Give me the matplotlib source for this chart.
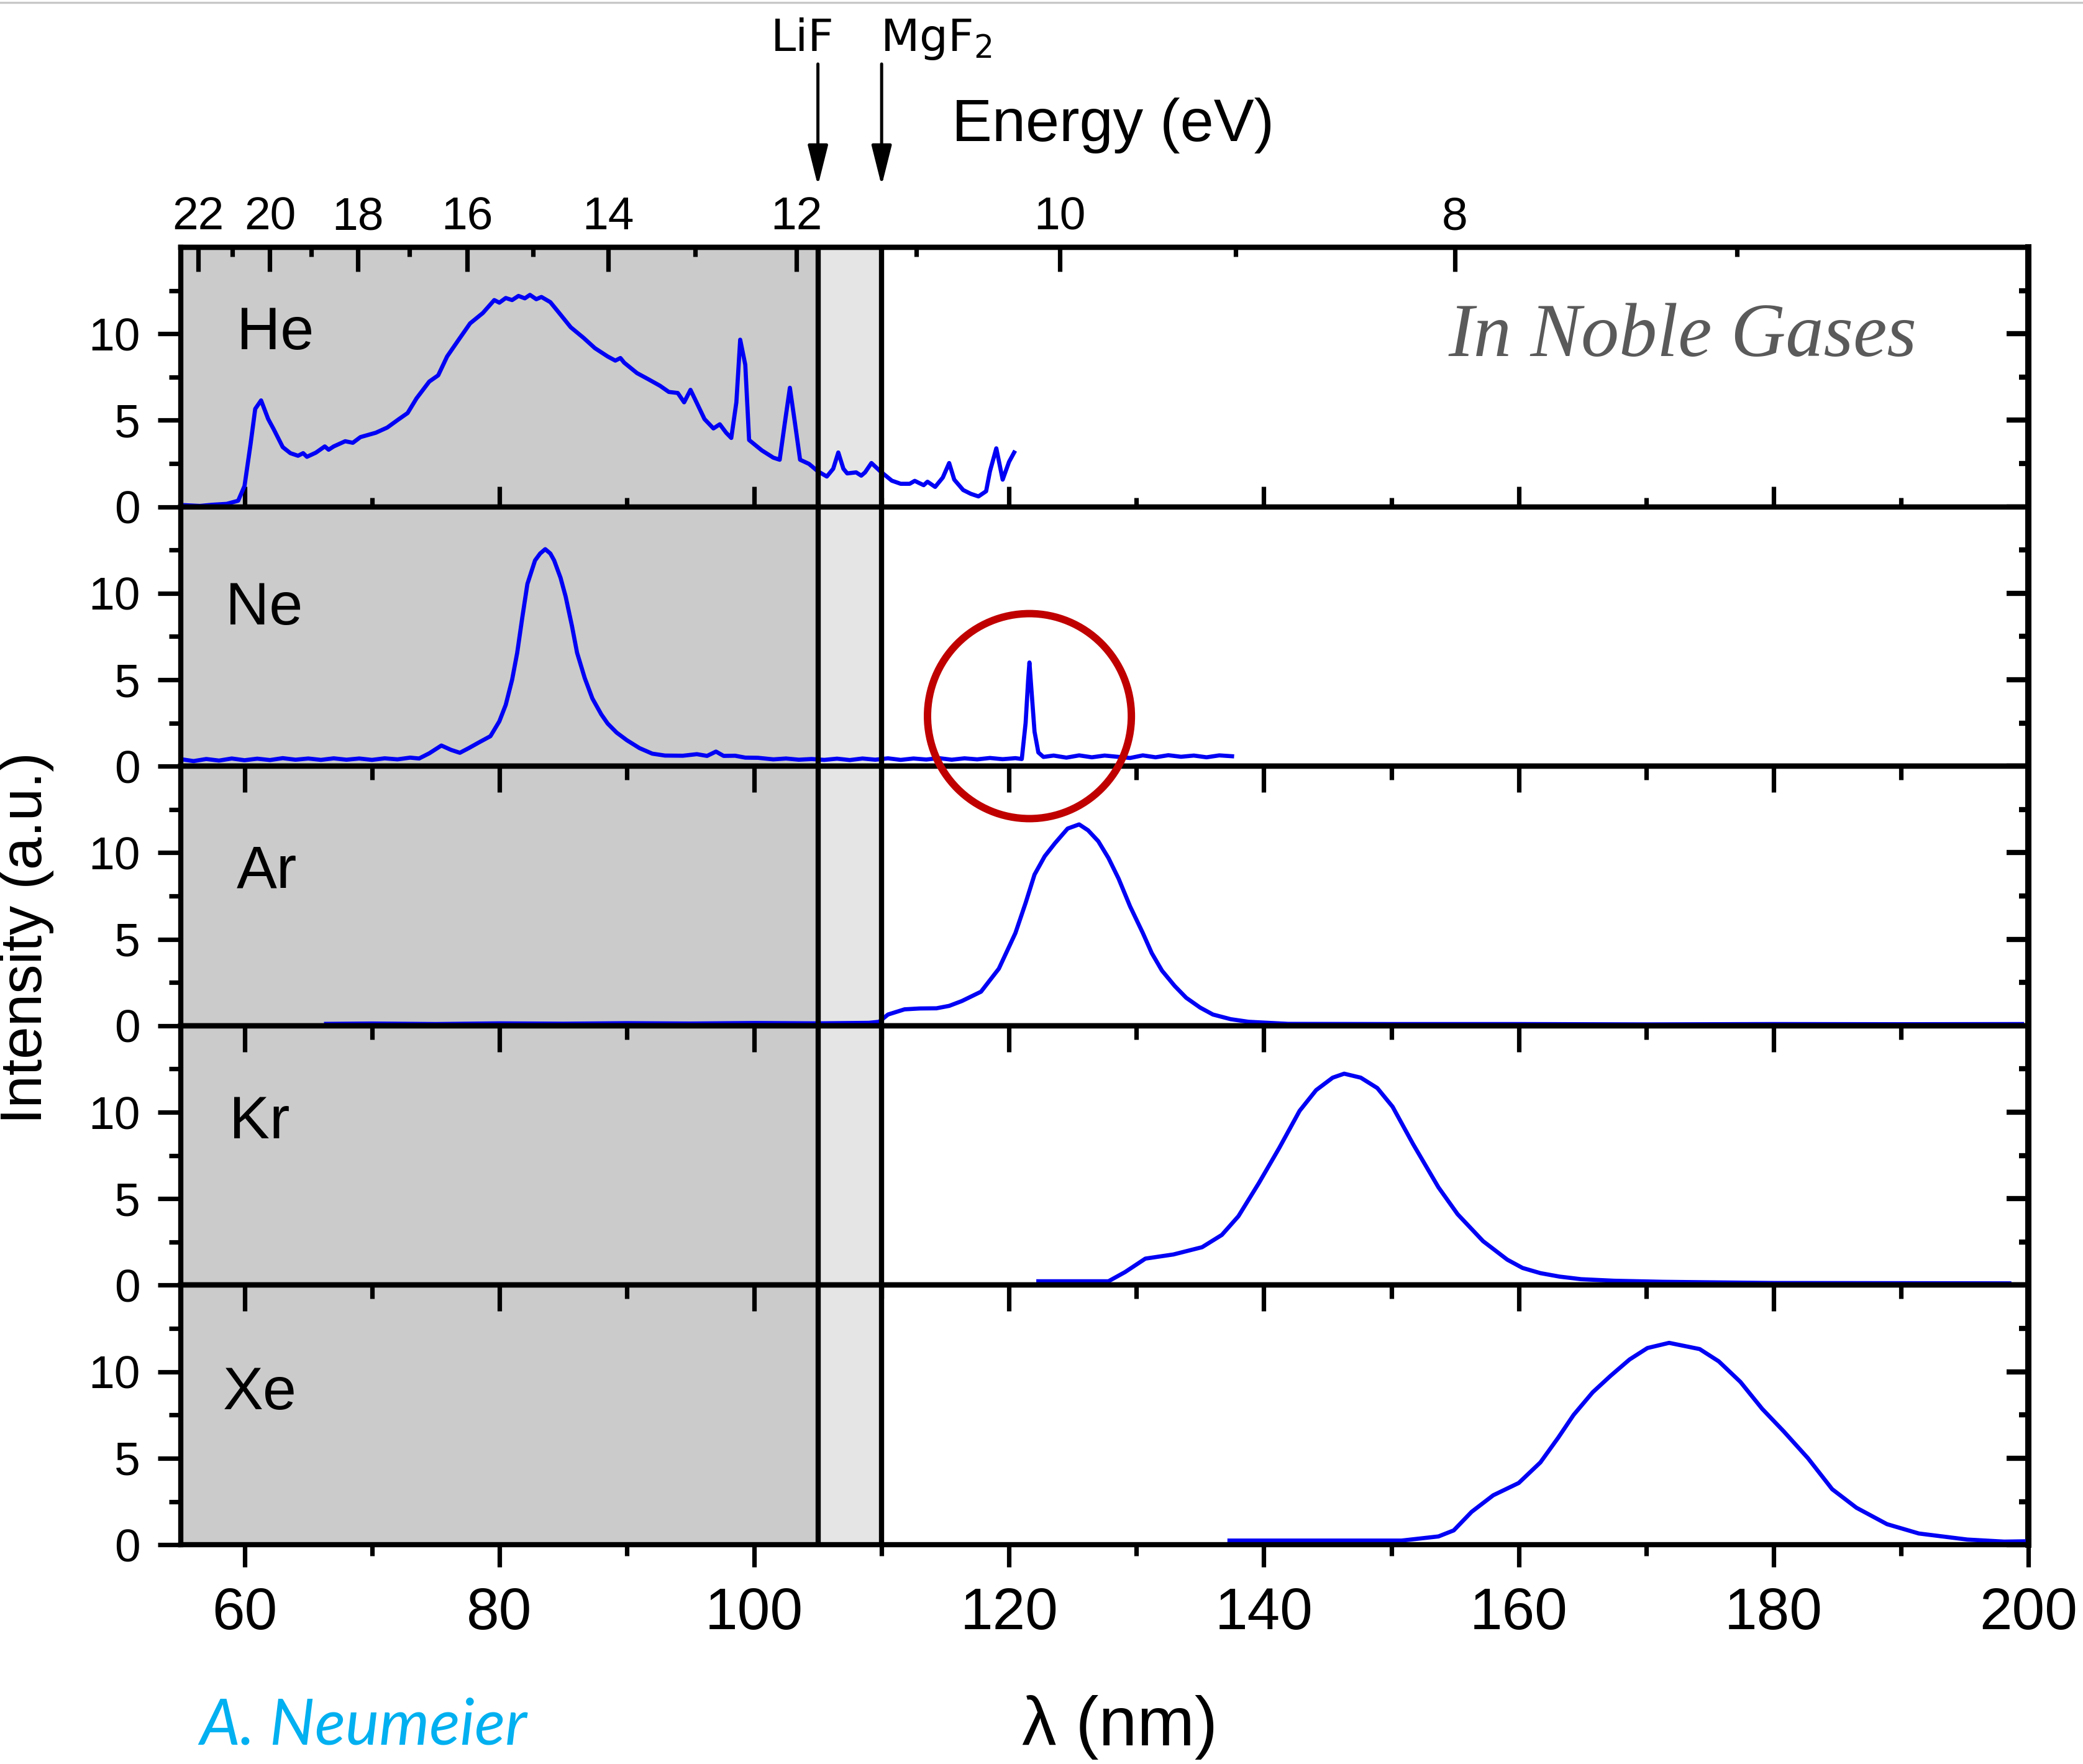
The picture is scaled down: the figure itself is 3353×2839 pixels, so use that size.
"""
VUV emission spectra of the noble gases, one stacked panel per gas
"""
import matplotlib.pyplot as plt
import numpy as np
from matplotlib.lines import Line2D
from matplotlib.patches import Ellipse
from matplotlib.ticker import FixedLocator, MultipleLocator

HC = 1239.84  # eV * nm

# window cut-offs (nm)
LIF_EDGE = 105
MGF2_EDGE = 110

gases = ["He", "Ne", "Ar", "Kr", "Xe"]

he_nm = [55.1, 56.5, 57.5, 58.6, 59.5, 60.0, 60.47, 60.84, 61.3, 61.86, 62.3,
         63.0, 63.6, 64.2, 64.6, 64.9, 65.6, 66.3, 66.6, 67.0, 67.9, 68.5,
         69.1, 70.3, 71.2, 72.1, 72.8, 73.5, 74.5, 75.2, 75.9, 76.8, 77.7,
         78.7, 79.6, 80.0, 80.5, 81.0, 81.5, 82.0, 82.4, 82.9, 83.3, 84.0,
         84.7, 85.6, 86.6, 87.5, 88.5, 89.1, 89.5, 89.8, 90.8, 91.7, 92.6,
         93.3, 94.0, 94.5, 95.0, 95.4, 96.1, 96.8, 97.3, 97.8, 98.2, 98.6,
         98.9, 99.3, 99.6, 100.6, 101.5, 102.0, 102.4, 102.8, 103.2, 103.6,
         104.3, 105.0, 105.7, 106.2, 106.6, 107.0, 107.3, 108.0, 108.4,
         108.7, 109.2, 109.9, 110.8, 111.5, 112.2, 112.6, 112.9, 113.3,
         113.6, 114.2, 114.8, 115.3, 115.7, 116.4, 117.0, 117.6, 118.2,
         118.5, 119.0, 119.5, 120.0, 120.4]
he_int = [0.10, 0.05, 0.12, 0.17, 0.35, 1.2, 3.6, 5.66, 6.15, 5.07, 4.47,
          3.45, 3.1, 2.95, 3.1, 2.89, 3.13, 3.49, 3.3, 3.49, 3.79, 3.7,
          4.03, 4.28, 4.58, 5.06, 5.42, 6.27, 7.24, 7.6, 8.69, 9.65, 10.6,
          11.2, 11.95, 11.8, 12.07, 11.95, 12.19, 12.05, 12.25, 12.0, 12.13,
          11.83, 11.2, 10.38, 9.77, 9.17, 8.69, 8.45, 8.6, 8.33, 7.73, 7.37,
          7.0, 6.64, 6.58, 6.04, 6.76, 6.15, 5.07, 4.53, 4.77, 4.28, 3.98,
          6.04, 9.66, 8.21, 3.86, 3.26, 2.84, 2.72, 4.83, 6.88, 4.83, 2.72,
          2.48, 2.05, 1.75, 2.2, 3.14, 2.2, 1.93, 1.99, 1.8, 1.99, 2.53,
          2.05, 1.51, 1.33, 1.33, 1.5, 1.39, 1.25, 1.45, 1.15, 1.69, 2.53,
          1.57, 0.97, 0.75, 0.6, 0.9, 2.05, 3.38, 1.57, 2.6, 3.14]

ne_nm = [55.1, 56, 57, 58, 59, 60, 61, 62, 63, 64, 65, 66, 67, 68, 69, 70,
         71, 72, 73, 73.7, 74.5, 75.45, 76.2, 76.9, 77.6, 78.4, 79.3, 80.0,
         80.5, 81.0, 81.4, 81.8, 82.2, 82.8, 83.2, 83.6, 84.0, 84.3, 84.8,
         85.2, 85.7, 86.1, 86.7, 87.3, 88.0, 88.5, 89.2, 90.0, 91.0, 92.0,
         93.0, 94.4, 95.5, 96.3, 97.0, 97.6, 98.5, 99.3, 100.3, 101.5, 102.5,
         103.5, 104.5, 105.5, 106.5, 107.5, 108.5, 109.5, 110.5, 111.5,
         112.5, 113.5, 114.5, 115.5, 116.5, 117.5, 118.5, 119.5, 120.5,
         121.0, 121.3, 121.5, 121.6, 121.75, 122.0, 122.3, 122.7, 123.5,
         124.5, 125.5, 126.5, 127.5, 128.5, 129.5, 130.5, 131.5, 132.5,
         133.5, 134.5, 135.5, 136.5, 137.5]
ne_int = [0.40, 0.30, 0.42, 0.33, 0.45, 0.35, 0.44, 0.36, 0.47, 0.38, 0.45,
          0.37, 0.46, 0.38, 0.45, 0.37, 0.46, 0.40, 0.50, 0.45, 0.75, 1.2,
          0.95, 0.78, 1.05, 1.38, 1.74, 2.6, 3.55, 5.0, 6.56, 8.6, 10.54,
          11.9, 12.3, 12.55, 12.3, 11.9, 10.9, 9.82, 8.1, 6.56, 5.1, 3.92,
          3.0, 2.47, 1.95, 1.51, 1.05, 0.73, 0.62, 0.61, 0.70, 0.60, 0.85,
          0.60, 0.61, 0.50, 0.49, 0.40, 0.45, 0.38, 0.42, 0.37, 0.44, 0.36,
          0.45, 0.38, 0.46, 0.37, 0.45, 0.39, 0.47, 0.38, 0.46, 0.40, 0.48,
          0.41, 0.47, 0.42, 2.5, 5.0, 6.0, 4.5, 2.0, 0.8, 0.54, 0.62, 0.50,
          0.63, 0.52, 0.62, 0.55, 0.48, 0.63, 0.52, 0.64, 0.55, 0.62, 0.52,
          0.63, 0.58]

ar_nm = [66.4, 70, 75, 80, 85, 90, 95, 100, 105, 109.0, 109.8, 110.5, 111.8,
         113.0, 114.3, 115.3, 116.3, 117.8, 119.2, 120.5, 121.3, 122.0,
         122.8, 123.6, 124.6, 125.5, 126.2, 127.0, 127.8, 128.6, 129.5,
         130.5, 131.2, 132.0, 133.0, 133.9, 135.0, 136.0, 137.4, 138.8,
         141.9, 150, 160, 170, 180, 190, 199.5]
ar_int = [0.11, 0.13, 0.10, 0.14, 0.12, 0.15, 0.13, 0.16, 0.14, 0.17, 0.23,
          0.65, 0.95, 1.0, 1.01, 1.15, 1.43, 1.97, 3.3, 5.36, 7.1, 8.74,
          9.8, 10.55, 11.4, 11.64, 11.3, 10.67, 9.7, 8.5, 6.9, 5.36, 4.2,
          3.19, 2.3, 1.62, 1.05, 0.65, 0.38, 0.23, 0.11, 0.10, 0.10, 0.08,
          0.10, 0.09, 0.10]

kr_nm = [122.3, 127.8, 129.1, 130.7, 132.9, 135.15, 136.7, 138.0, 139.6,
         141.2, 142.8, 144.1, 145.4, 146.3, 147.6, 148.9, 150.1, 151.7,
         153.7, 155.2, 157.2, 159.1, 160.3, 161.7, 163.2, 164.9, 167.5,
         171.3, 180, 190, 198.5]
kr_int = [0.23, 0.23, 0.76, 1.54, 1.78, 2.2, 2.91, 3.99, 5.9, 7.93, 10.08,
          11.28, 12.0, 12.23, 12.0, 11.4, 10.32, 8.17, 5.66, 4.11, 2.55,
          1.48, 1.0, 0.7, 0.5, 0.35, 0.26, 0.2, 0.13, 0.12, 0.11]

xe_nm = [137.3, 150.8, 153.7, 154.9, 156.3, 158.0, 160.0, 161.7, 163.1,
         164.3, 165.8, 167.2, 168.7, 170.1, 171.8, 173.0, 174.2, 175.7,
         177.4, 179.1, 180.8, 182.7, 184.6, 186.5, 188.9, 191.4, 195.2,
         198.1, 199.8]
xe_int = [0.24, 0.24, 0.48, 0.83, 1.9, 2.86, 3.57, 4.76, 6.19, 7.5, 8.81,
          9.76, 10.71, 11.37, 11.67, 11.49, 11.31, 10.6, 9.41, 7.86, 6.55,
          5.0, 3.21, 2.14, 1.19, 0.65, 0.3, 0.18, 0.2]

spectra = {
    "He": (he_nm, he_int),
    "Ne": (ne_nm, ne_int),
    "Ar": (ar_nm, ar_int),
    "Kr": (kr_nm, kr_int),
    "Xe": (xe_nm, xe_int),
}

energy_major = [22, 20, 18, 16, 14, 12, 10, 8]
energy_minor = [21, 19, 17, 15, 13, 11, 9, 7]

# where the gas name sits inside its panel (nm, intensity)
name_pos = {
    "He": (59.4, 9.1),
    "Ne": (58.5, 8.2),
    "Ar": (59.4, 8.0),
    "Kr": (58.8, 8.5),
    "Xe": (58.3, 7.85),
}

LINE_BLUE = "#0000f5"
DARK_GREY = "#cbcbcb"
LIGHT_GREY = "#e5e5e5"
SPINE_W = 3.0
TICK_W = 2.6


def nm_to_ev(x):
    """photon energy <-> wavelength, the relation is its own inverse"""
    x = np.asarray(x, dtype=float)
    with np.errstate(divide="ignore"):
        return HC / x


def style_y(ax):
    ax.set_ylim(0, 15)
    ax.yaxis.set_major_locator(FixedLocator([0, 5, 10]))
    ax.yaxis.set_minor_locator(FixedLocator([2.5, 7.5, 12.5]))
    ax.tick_params(axis="y", which="both", direction="out", left=True,
                   right=False, labelsize=27, pad=10, width=TICK_W)
    ax.tick_params(axis="y", which="major", length=13.5)
    ax.tick_params(axis="y", which="minor", length=7)

    right = ax.secondary_yaxis("right")
    right.set_ticks([0, 5, 10])
    right.yaxis.set_minor_locator(FixedLocator([2.5, 7.5, 12.5]))
    right.tick_params(axis="y", which="both", direction="in",
                      labelright=False, width=TICK_W + 0.4)
    right.tick_params(axis="y", which="major", length=12.5)
    right.tick_params(axis="y", which="minor", length=5.5)
    right.spines["right"].set_linewidth(3.6)


def top_nm_ticks(ax):
    top = ax.secondary_xaxis("top")
    top.xaxis.set_major_locator(MultipleLocator(20))
    top.xaxis.set_minor_locator(MultipleLocator(10))
    top.tick_params(axis="x", which="both", direction="in", labeltop=False,
                    width=TICK_W)
    top.tick_params(axis="x", which="major", length=15)
    top.tick_params(axis="x", which="minor", length=8)
    top.spines["top"].set_linewidth(SPINE_W)


plt.rcParams["font.family"] = ["Liberation Sans", "DejaVu Sans"]

fig, axes = plt.subplots(5, 1, sharex=True, figsize=(16.765, 14.195),
                         dpi=200)
fig.subplots_adjust(left=0.0868, right=0.9738, bottom=0.1243, top=0.8598,
                    hspace=0)

for ax, gas in zip(axes, gases):
    nm, inten = spectra[gas]
    ax.axvspan(55, LIF_EDGE, color=DARK_GREY, lw=0, zorder=0)
    ax.axvspan(LIF_EDGE, MGF2_EDGE, color=LIGHT_GREY, lw=0, zorder=0)
    ax.axvline(LIF_EDGE, color="k", lw=3.0, zorder=3)
    ax.axvline(MGF2_EDGE, color="k", lw=3.0, zorder=3)
    ax.plot(nm, inten, color=LINE_BLUE, lw=2.4, zorder=2,
            solid_joinstyle="round")

    ax.set_xlim(55, 200)
    ax.xaxis.set_major_locator(MultipleLocator(20))
    ax.xaxis.set_minor_locator(MultipleLocator(10))
    for side in ax.spines.values():
        side.set_linewidth(SPINE_W)
    style_y(ax)

    x_name, y_name = name_pos[gas]
    ax.text(x_name, y_name, gas, fontsize=35, ha="left", va="baseline")

# He: wavelength ticks inside at the bottom, photon energy on top
he = axes[0]
he.tick_params(axis="x", which="both", direction="in", bottom=True,
               top=False, labelbottom=False, width=TICK_W)
he.tick_params(axis="x", which="major", length=12)
he.tick_params(axis="x", which="minor", length=5.5)
energy = he.secondary_xaxis("top", functions=(nm_to_ev, nm_to_ev))
energy.set_ticks(energy_major, labels=[str(e) for e in energy_major])
energy.xaxis.set_minor_locator(FixedLocator(energy_minor))
energy.tick_params(axis="x", which="both", direction="in", labelsize=27,
                   pad=5, width=TICK_W)
energy.tick_params(axis="x", which="major", length=14)
energy.tick_params(axis="x", which="minor", length=5.5)
energy.spines["top"].set_linewidth(SPINE_W)
he.text(154.5, 8.7, "In Noble Gases", fontsize=44, family="Liberation Serif",
        style="italic", color="#5a5a5a", ha="left", va="baseline")

# Ne: no wavelength ticks at all
axes[1].tick_params(axis="x", which="both", bottom=False, top=False,
                    labelbottom=False)

# Ar, Kr, Xe: wavelength ticks inside along the top
for ax in axes[2:]:
    ax.tick_params(axis="x", which="both", bottom=False, top=False,
                   labelbottom=False)
    top_nm_ticks(ax)

xe = axes[4]
xe.tick_params(axis="x", which="both", direction="out", bottom=True,
               labelbottom=True, labelsize=34, pad=11, width=TICK_W)
xe.tick_params(axis="x", which="major", length=13)
xe.tick_params(axis="x", which="minor", length=6.5)

# window transmission limits
for edge, label, dx, align in [(LIF_EDGE, "LiF", -1.2, "center"),
                               (MGF2_EDGE, "MgF$_2$", -0.1, "left")]:
    he.annotate("", xy=(edge, 1 - 299 / 2839),
                xycoords=("data", "figure fraction"),
                xytext=(edge, 1 - 103 / 2839),
                textcoords=("data", "figure fraction"),
                arrowprops=dict(arrowstyle="-|>,head_length=0.4,head_width=0.1",
                                color="k", lw=1.8, mutation_scale=50,
                                shrinkA=0, shrinkB=0),
                annotation_clip=False)
    he.annotate(label, xy=(edge + dx, 1 - 82 / 2839),
                xycoords=("data", "figure fraction"), ha=align,
                va="baseline", fontsize=26, family="DejaVu Sans",
                annotation_clip=False)

# Lyman-alpha line in the neon spectrum
fig.add_artist(Ellipse((121.6, 2.9), 16.0, 11.85,
                       transform=axes[1].transData, fill=False,
                       ec="#c00000", lw=4.3, zorder=10))

fig.text(1792 / 3353, 1 - 227 / 2839, "Energy (eV)", fontsize=35,
         ha="center", va="baseline")
fig.text(1803 / 3353, 1 - 2780 / 2839, "λ (nm)", fontsize=40, ha="center",
         va="center")
fig.text(43 / 3353, 1 - 1510 / 2839, "Intensity (a.u.)", fontsize=34,
         rotation=90, ha="center", va="center")
fig.text(321 / 3353, 1 - 2808 / 2839, "A. Neumeier", fontsize=37,
         family="Lato", style="italic", color="#00b0f0", ha="left",
         va="baseline")

fig.add_artist(Line2D([0, 1], [1 - 4 / 2839] * 2, transform=fig.transFigure,
                      color="#c8c8c8", lw=1.2))

fig.savefig("out.png", dpi=200)
